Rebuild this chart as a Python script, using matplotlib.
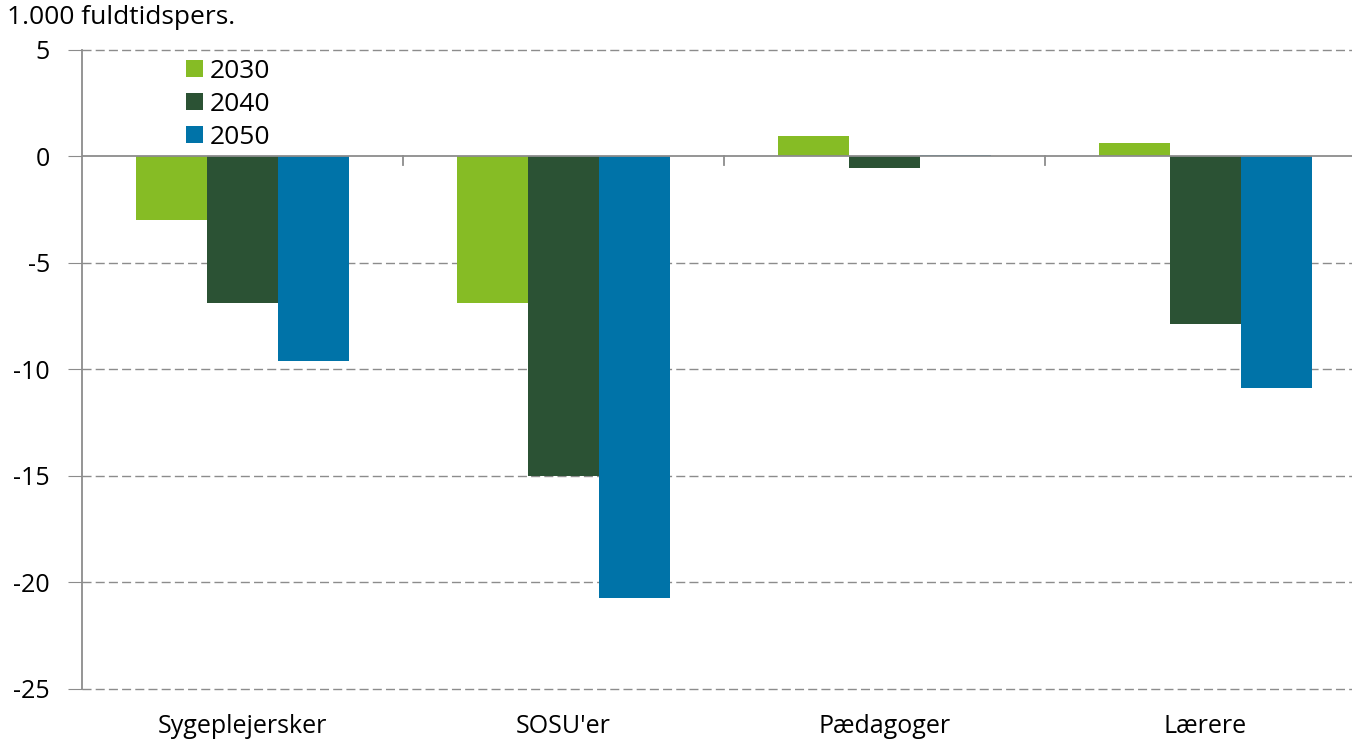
import numpy as np
import matplotlib.pyplot as plt

plt.rcParams['font.family'] = ['Open Sans', 'DejaVu Sans']

kategorier = ["Sygeplejersker", "SOSU'er", "Pædagoger", "Lærere"]
aar = ["2030", "2040", "2050"]
v2030 = [-3.0, -6.9, 0.95, 0.65]
v2040 = [-6.9, -15.0, -0.55, -7.85]
v2050 = [-9.6, -20.75, 0.08, -10.85]
farver = ["#86bc25", "#2b5234", "#0073a8"]

fig = plt.figure(figsize=(13.52, 7.45), dpi=100)
# aksen går lidt ud over billedkanten til højre, som i originalen
ax = fig.add_axes([0.0607, 0.0752, 0.9497, 0.8577])

x = np.arange(len(kategorier))
w = 0.221
for i, (vals, navn) in enumerate(zip([v2030, v2040, v2050], aar)):
    ax.bar(x + (i - 1) * w, vals, w, color=farver[i], label=navn, zorder=3)

ax.set_xlim(-0.5, 3.5)
ax.set_ylim(-25, 5)
ax.set_yticks([5, 0, -5, -10, -15, -20, -25])
ax.set_yticklabels(["5", "0", "-5", "-10", "-15", "-20", "-25"])
for y in [5, -5, -10, -15, -20, -25]:
    ax.axhline(y, color="#8c8c8c", lw=1, ls=(0, (6.5, 3)), zorder=1, clip_on=False)
ax.axhline(0, color="#8c8c8c", lw=1.3, zorder=4)
# små streger ved kategorigrænser
for b in [0.5, 1.5, 2.5]:
    ax.plot([b, b], [0, -0.42], color="#8c8c8c", lw=1.3, zorder=4)

for s in ["top", "right", "bottom"]:
    ax.spines[s].set_visible(False)
ax.spines["left"].set_color("#8c8c8c")
ax.spines["left"].set_linewidth(1.3)
ax.tick_params(axis="y", length=10, color="#8c8c8c", labelsize=18, pad=13)
ax.tick_params(axis="x", length=0, labelsize=18, pad=18)
ax.set_xticks(x)
ax.set_xticklabels(kategorier)

fig.text(0.005, 0.977, "1.000 fuldtidspers.", fontsize=19, va="center", ha="left")

ax.legend(loc="upper left", bbox_to_anchor=(0.1376, 0.921), bbox_transform=fig.transFigure,
          frameon=False, fontsize=19, handlelength=0.64, handleheight=0.64,
          handletextpad=0.25, labelspacing=0.3, borderpad=0, borderaxespad=0)

fig.savefig("out.png", dpi=100)
